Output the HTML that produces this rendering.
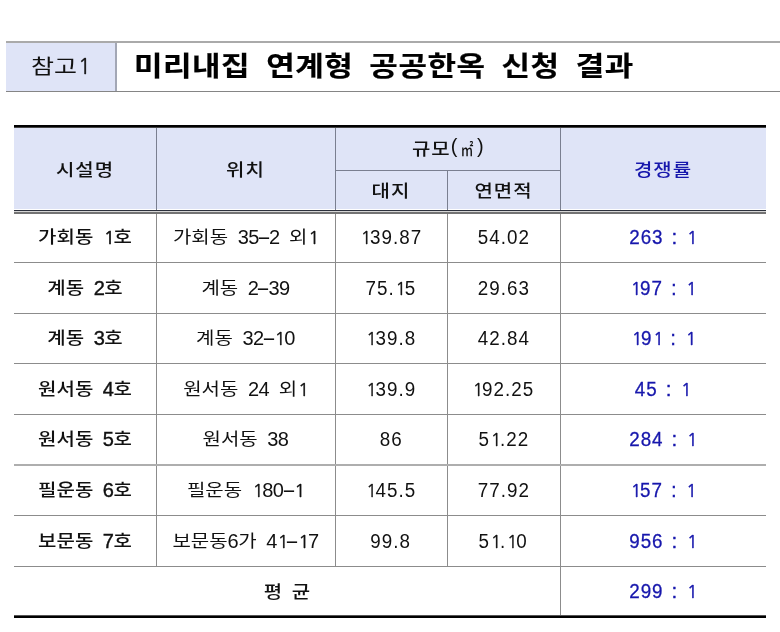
<!DOCTYPE html>
<html lang="ko">
<head>
<meta charset="utf-8">
<title>미리내집 연계형 공공한옥 신청 결과</title>
<style>
html,body{margin:0;padding:0;background:#fff;}
body{width:780px;height:632px;position:relative;overflow:hidden;
  font-family:"Liberation Sans","Noto Sans CJK KR",sans-serif;color:#111;}
.a{position:absolute;}
.hl{position:absolute;height:1px;background:#8c8c8c;}
.vl{position:absolute;width:1px;background:#8c8c8c;}
.c{position:absolute;height:30px;line-height:30px;text-align:center;white-space:pre;font-size:20px;letter-spacing:-0.5px;word-spacing:4.5px;}
.h{display:inline-block;line-height:1;font-family:"Liberation Sans","Noto Sans CJK KR",sans-serif;font-size:20px;letter-spacing:0;word-spacing:0;transform:translateY(-1.2px) scaleY(0.835);transform-origin:50% 17.6px;}
.hy{display:inline-block;line-height:1;width:10px;text-align:center;letter-spacing:0;transform:scaleX(2.1);}
.o{display:inline-block;line-height:1;font-family:"NanumGothic","Liberation Sans",sans-serif;font-size:18.7px;width:10.6px;text-align:center;letter-spacing:0;position:relative;left:0.8px;-webkit-text-stroke:0.35px currentColor;}
.b .o{-webkit-text-stroke:0.6px currentColor;}
.ref .o{font-size:21.5px;width:12.8px;}
.nd{display:inline-block;line-height:1;transform:scaleX(0.94);letter-spacing:1.1px;}
.co{-webkit-text-stroke:0.5px currentColor;}
.b{font-weight:500;-webkit-text-stroke:0.4px currentColor;}
.b .h{-webkit-text-stroke:0px currentColor;}
.bb .h{font-weight:500;}
.r{font-weight:400;}
.blue{color:#1717ac;}
.r.blue{-webkit-text-stroke:0.3px currentColor;}
.r.blue .o{-webkit-text-stroke:0.5px currentColor;}
.hd .h{letter-spacing:1px;}
.hd{-webkit-text-stroke:0;}
.pa{position:relative;top:-2.5px;}
.hd .m2{letter-spacing:0;transform:translateY(0px) scaleX(0.63) scaleY(0.835);}
.ttl{position:absolute;left:134px;height:40px;line-height:40px;white-space:pre;font-family:"Liberation Sans","Noto Sans CJK KR",sans-serif;font-weight:700;font-size:31px;letter-spacing:0.5px;word-spacing:7px;transform:scaleY(0.88);transform-origin:0 31.78px;-webkit-text-stroke:0.2px #000;color:#000;}
.ref{font-size:23px;letter-spacing:0;}
.ref .h{font-size:25px;transform:scaleY(0.81);transform-origin:50% 22.0px;}
</style>
</head>
<body>
<div class="a" style="left:6px;top:41px;width:774px;height:2px;background:#aaaaaa"></div>
<div class="a" style="left:6px;top:91px;width:774px;height:1px;background:#858585"></div>
<div class="a" style="left:6px;top:43px;width:109px;height:48px;background:#dfe4f7"></div>
<div class="a" style="left:115px;top:43px;width:2px;height:48px;background:#a3a7b5"></div>
<div class="c ref" style="left:6px;width:109px;top:50.53px;"><span class="h">참고</span><span class="o">1</span></div>
<div class="ttl" style="top:46.22px">미리내집 연계형 공공한옥 신청 결과</div>
<div class="a" style="left:14px;top:125px;width:752px;height:2px;background:#000"></div>
<div class="a" style="left:14px;top:127px;width:752px;height:1px;background:#444"></div>
<div class="a" style="left:14px;top:128px;width:752px;height:81px;background:#dfe4f7"></div>
<div class="a" style="left:14px;top:210px;width:752px;height:1px;background:#2c303c"></div>
<div class="a" style="left:14px;top:211px;width:752px;height:1px;background:#d4d4d4"></div>
<div class="a" style="left:14px;top:212px;width:752px;height:2px;background:#737373"></div>
<div class="a" style="left:14px;top:615px;width:752px;height:1px;background:#555"></div>
<div class="a" style="left:14px;top:616px;width:752px;height:2px;background:#000"></div>
<div class="vl" style="left:156px;top:128px;height:82px;background:#7a7f90"></div>
<div class="vl" style="left:335px;top:128px;height:82px;background:#7a7f90"></div>
<div class="vl" style="left:447px;top:170px;height:40px;background:#7a7f90"></div>
<div class="vl" style="left:560px;top:128px;height:82px;background:#7a7f90"></div>
<div class="hl" style="left:335px;top:170px;width:225px;background:#7a7f90"></div>
<div class="vl" style="left:156px;top:214px;height:352px;"></div>
<div class="vl" style="left:335px;top:214px;height:352px;"></div>
<div class="vl" style="left:447px;top:214px;height:352px;"></div>
<div class="vl" style="left:560px;top:214px;height:401px;"></div>
<div class="hl" style="left:14px;top:262px;width:752px;"></div>
<div class="hl" style="left:14px;top:313px;width:752px;"></div>
<div class="hl" style="left:14px;top:363px;width:752px;"></div>
<div class="hl" style="left:14px;top:414px;width:752px;"></div>
<div class="hl" style="left:14px;top:464px;width:752px;background:#aeaeae"></div>
<div class="hl" style="left:14px;top:465px;width:752px;background:#aeaeae"></div>
<div class="hl" style="left:14px;top:515px;width:752px;"></div>
<div class="hl" style="left:14px;top:566px;width:752px;"></div>
<div class="c b hd" style="left:14px;width:142px;top:155.07px;"><span class="h">시설명</span></div>
<div class="c b hd" style="left:156px;width:179px;top:155.07px;"><span class="h">위치</span></div>
<div class="c b hd" style="left:335px;width:225px;top:133.57px;"><span class="h">규모</span><span class="pa">(</span><span class="h m2">㎡</span><span class="pa">)</span></div>
<div class="c b hd" style="left:335px;width:112px;top:175.57px;"><span class="h">대지</span></div>
<div class="c b hd" style="left:447px;width:113px;top:175.57px;"><span class="h">연면적</span></div>
<div class="c b blue hd" style="left:560px;width:206px;top:155.07px;"><span class="h">경쟁률</span></div>
<div class="c b bb" style="left:14px;width:142px;top:222.07px;"><span class="h">가회동</span> <span class="o">1</span><span class="h">호</span></div>
<div class="c r" style="left:156px;width:179px;top:222.07px;"><span class="h">가회동</span> 35<span class="hy">-</span>2 <span class="h">외</span><span class="o">1</span></div>
<div class="c r" style="left:335px;width:112px;top:222.07px;"><span class="nd" style="word-spacing:2px"><span class="o">1</span>39.87</span></div>
<div class="c r" style="left:447px;width:113px;top:222.07px;"><span class="nd" style="word-spacing:2px">54.02</span></div>
<div class="c r blue" style="left:560px;width:206px;top:222.07px;"><span class="nd" style="word-spacing:2px">263 <span class="co">:</span> <span class="o">1</span></span></div>
<div class="c b bb" style="left:14px;width:142px;top:272.57px;"><span class="h">계동</span> 2<span class="h">호</span></div>
<div class="c r" style="left:156px;width:179px;top:272.57px;"><span class="h">계동</span> 2<span class="hy">-</span>39</div>
<div class="c r" style="left:335px;width:112px;top:272.57px;"><span class="nd" style="word-spacing:2px">75.<span class="o">1</span>5</span></div>
<div class="c r" style="left:447px;width:113px;top:272.57px;"><span class="nd" style="word-spacing:2px">29.63</span></div>
<div class="c r blue" style="left:560px;width:206px;top:272.57px;"><span class="nd" style="word-spacing:2px"><span class="o">1</span>97 <span class="co">:</span> <span class="o">1</span></span></div>
<div class="c b bb" style="left:14px;width:142px;top:323.07px;"><span class="h">계동</span> 3<span class="h">호</span></div>
<div class="c r" style="left:156px;width:179px;top:323.07px;"><span class="h">계동</span> 32<span class="hy">-</span><span class="o">1</span>0</div>
<div class="c r" style="left:335px;width:112px;top:323.07px;"><span class="nd" style="word-spacing:2px"><span class="o">1</span>39.8</span></div>
<div class="c r" style="left:447px;width:113px;top:323.07px;"><span class="nd" style="word-spacing:2px">42.84</span></div>
<div class="c r blue" style="left:560px;width:206px;top:323.07px;"><span class="nd" style="word-spacing:2px"><span class="o">1</span>9<span class="o">1</span> <span class="co">:</span> <span class="o">1</span></span></div>
<div class="c b bb" style="left:14px;width:142px;top:373.57px;"><span class="h">원서동</span> 4<span class="h">호</span></div>
<div class="c r" style="left:156px;width:179px;top:373.57px;"><span class="h">원서동</span> 24 <span class="h">외</span><span class="o">1</span></div>
<div class="c r" style="left:335px;width:112px;top:373.57px;"><span class="nd" style="word-spacing:2px"><span class="o">1</span>39.9</span></div>
<div class="c r" style="left:447px;width:113px;top:373.57px;"><span class="nd" style="word-spacing:2px"><span class="o">1</span>92.25</span></div>
<div class="c r blue" style="left:560px;width:206px;top:373.57px;"><span class="nd" style="word-spacing:2px">45 <span class="co">:</span> <span class="o">1</span></span></div>
<div class="c b bb" style="left:14px;width:142px;top:424.32px;"><span class="h">원서동</span> 5<span class="h">호</span></div>
<div class="c r" style="left:156px;width:179px;top:424.32px;"><span class="h">원서동</span> 38</div>
<div class="c r" style="left:335px;width:112px;top:424.32px;"><span class="nd" style="word-spacing:2px">86</span></div>
<div class="c r" style="left:447px;width:113px;top:424.32px;"><span class="nd" style="word-spacing:2px">5<span class="o">1</span>.22</span></div>
<div class="c r blue" style="left:560px;width:206px;top:424.32px;"><span class="nd" style="word-spacing:2px">284 <span class="co">:</span> <span class="o">1</span></span></div>
<div class="c b bb" style="left:14px;width:142px;top:474.82px;"><span class="h">필운동</span> 6<span class="h">호</span></div>
<div class="c r" style="left:156px;width:179px;top:474.82px;"><span class="h">필운동</span> <span class="o">1</span>80<span class="hy">-</span><span class="o">1</span></div>
<div class="c r" style="left:335px;width:112px;top:474.82px;"><span class="nd" style="word-spacing:2px"><span class="o">1</span>45.5</span></div>
<div class="c r" style="left:447px;width:113px;top:474.82px;"><span class="nd" style="word-spacing:2px">77.92</span></div>
<div class="c r blue" style="left:560px;width:206px;top:474.82px;"><span class="nd" style="word-spacing:2px"><span class="o">1</span>57 <span class="co">:</span> <span class="o">1</span></span></div>
<div class="c b bb" style="left:14px;width:142px;top:525.57px;"><span class="h">보문동</span> 7<span class="h">호</span></div>
<div class="c r" style="left:156px;width:179px;top:525.57px;"><span class="h">보문동</span>6<span class="h">가</span> 4<span class="o">1</span><span class="hy">-</span><span class="o">1</span>7</div>
<div class="c r" style="left:335px;width:112px;top:525.57px;"><span class="nd" style="word-spacing:2px">99.8</span></div>
<div class="c r" style="left:447px;width:113px;top:525.57px;"><span class="nd" style="word-spacing:2px">5<span class="o">1</span>.<span class="o">1</span>0</span></div>
<div class="c r blue" style="left:560px;width:206px;top:525.57px;"><span class="nd" style="word-spacing:2px">956 <span class="co">:</span> <span class="o">1</span></span></div>
<div class="c b bb" style="left:14px;width:546px;top:576.57px;"><span class="h">평</span> <span class="h">균</span></div>
<div class="c r blue" style="left:560px;width:206px;top:575.57px;"><span class="nd" style="word-spacing:2px">299 <span class="co">:</span> <span class="o">1</span></span></div>
</body>
</html>
